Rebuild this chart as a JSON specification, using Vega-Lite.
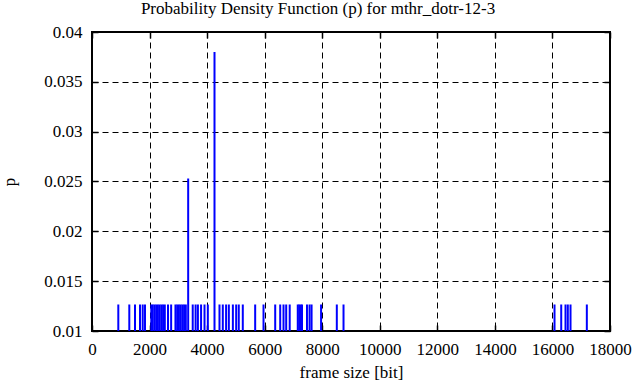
{
  "$schema": "https://vega.github.io/schema/vega-lite/v6.json",
  "width": 518,
  "height": 299,
  "autosize": "none",
  "padding": {"left": 92, "top": 32, "right": 26, "bottom": 56},
  "background": "white",
  "config": {
    "font": "Liberation Serif, Times New Roman, serif",
    "view": {"stroke": "black", "strokeWidth": 2},
    "style": {"guide-label": {"font": "Liberation Serif, Times New Roman, serif"}, "guide-title": {"font": "Liberation Serif, Times New Roman, serif"}},
    "axis": {"domain": false, "grid": true, "gridColor": "black", "gridDash": [6, 4], "gridOpacity": 1, "gridWidth": 1,
      "tickColor": "black", "tickSize": -6, "tickWidth": 1.5, "labelColor": "black", "labelFontSize": 17, "labelFont": "Liberation Serif, Times New Roman, serif",
      "titleFont": "Liberation Serif, Times New Roman, serif", "titleFontSize": 17, "titleFontWeight": "normal", "titleColor": "black"}
  },
  "title": {"text": "Probability Density Function (p) for mthr_dotr-12-3", "font": "Liberation Serif, Times New Roman, serif", "fontSize": 17, "fontWeight": "normal", "color": "black", "offset": 5, "dx": -33},
  "data": {"values": [
    {"size": 914, "p": 0.01266}, {"size": 1296, "p": 0.01266}, {"size": 1494, "p": 0.01266}, {"size": 1668, "p": 0.01266},
    {"size": 1762, "p": 0.01266}, {"size": 1842, "p": 0.01266}, {"size": 2060, "p": 0.01266}, {"size": 2110, "p": 0.01266},
    {"size": 2170, "p": 0.01266}, {"size": 2230, "p": 0.01266}, {"size": 2290, "p": 0.01266}, {"size": 2350, "p": 0.01266},
    {"size": 2410, "p": 0.01266}, {"size": 2470, "p": 0.01266}, {"size": 2530, "p": 0.01266}, {"size": 2640, "p": 0.01266},
    {"size": 2750, "p": 0.01266}, {"size": 2900, "p": 0.01266}, {"size": 2960, "p": 0.01266}, {"size": 3020, "p": 0.01266},
    {"size": 3080, "p": 0.01266}, {"size": 3140, "p": 0.01266}, {"size": 3200, "p": 0.01266}, {"size": 3260, "p": 0.01266},
    {"size": 3342, "p": 0.0253}, {"size": 3500, "p": 0.01266}, {"size": 3600, "p": 0.01266}, {"size": 3680, "p": 0.01266},
    {"size": 3790, "p": 0.01266}, {"size": 3910, "p": 0.01266}, {"size": 4025, "p": 0.01266}, {"size": 4257, "p": 0.038},
    {"size": 4430, "p": 0.01266}, {"size": 4545, "p": 0.01266}, {"size": 4660, "p": 0.01266}, {"size": 4755, "p": 0.01266},
    {"size": 4895, "p": 0.01266}, {"size": 5010, "p": 0.01266}, {"size": 5100, "p": 0.01266}, {"size": 5240, "p": 0.01266},
    {"size": 5670, "p": 0.01266}, {"size": 5960, "p": 0.01266}, {"size": 6366, "p": 0.01266}, {"size": 6540, "p": 0.01266},
    {"size": 6655, "p": 0.01266}, {"size": 6748, "p": 0.01266}, {"size": 6870, "p": 0.01266}, {"size": 7150, "p": 0.01266},
    {"size": 7200, "p": 0.01266}, {"size": 7250, "p": 0.01266}, {"size": 7297, "p": 0.01266}, {"size": 7470, "p": 0.01266},
    {"size": 7560, "p": 0.01266}, {"size": 7630, "p": 0.01266}, {"size": 7960, "p": 0.01266}, {"size": 8507, "p": 0.01266},
    {"size": 8740, "p": 0.01266}, {"size": 16072, "p": 0.01266}, {"size": 16305, "p": 0.01266}, {"size": 16454, "p": 0.01266},
    {"size": 16534, "p": 0.01266}, {"size": 16628, "p": 0.01266}, {"size": 17195, "p": 0.01266}
  ]},
  "layer": [
    {
      "mark": {"type": "rule", "color": "#0000ff", "strokeWidth": 2},
      "encoding": {
        "x": {"field": "size", "type": "quantitative", "scale": {"domain": [0, 18000], "nice": false},
          "axis": {"title": "frame size [bit]", "values": [0, 2000, 4000, 6000, 8000, 10000, 12000, 14000, 16000, 18000], "format": "d", "labelPadding": 16, "titlePadding": 7, "labelFlush": false,
            "labelFont": "Liberation Serif, Times New Roman, serif", "labelFontSize": 17, "titleFont": "Liberation Serif, Times New Roman, serif"}},
        "y": {"field": "p", "type": "quantitative", "scale": {"domain": [0.01, 0.04], "nice": false, "zero": false},
          "axis": {"title": "p", "values": [0.01, 0.015, 0.02, 0.025, 0.03, 0.035, 0.04], "format": "~g", "labelPadding": 16, "titlePadding": 25, "labelFlush": false,
            "labelFont": "Liberation Serif, Times New Roman, serif", "labelFontSize": 17, "titleFont": "Liberation Serif, Times New Roman, serif"}},
        "y2": {"datum": 0.01}
      }
    },
    {
      "mark": {"type": "rule", "opacity": 0},
      "encoding": {
        "x": {"field": "size", "type": "quantitative", "axis": {"orient": "top", "title": null, "labels": false, "grid": false, "values": [0, 2000, 4000, 6000, 8000, 10000, 12000, 14000, 16000, 18000]}},
        "y": {"field": "p", "type": "quantitative", "axis": {"orient": "right", "title": null, "labels": false, "grid": false, "values": [0.01, 0.015, 0.02, 0.025, 0.03, 0.035, 0.04]}}
      }
    }
  ],
  "resolve": {"axis": {"x": "independent", "y": "independent"}}
}
